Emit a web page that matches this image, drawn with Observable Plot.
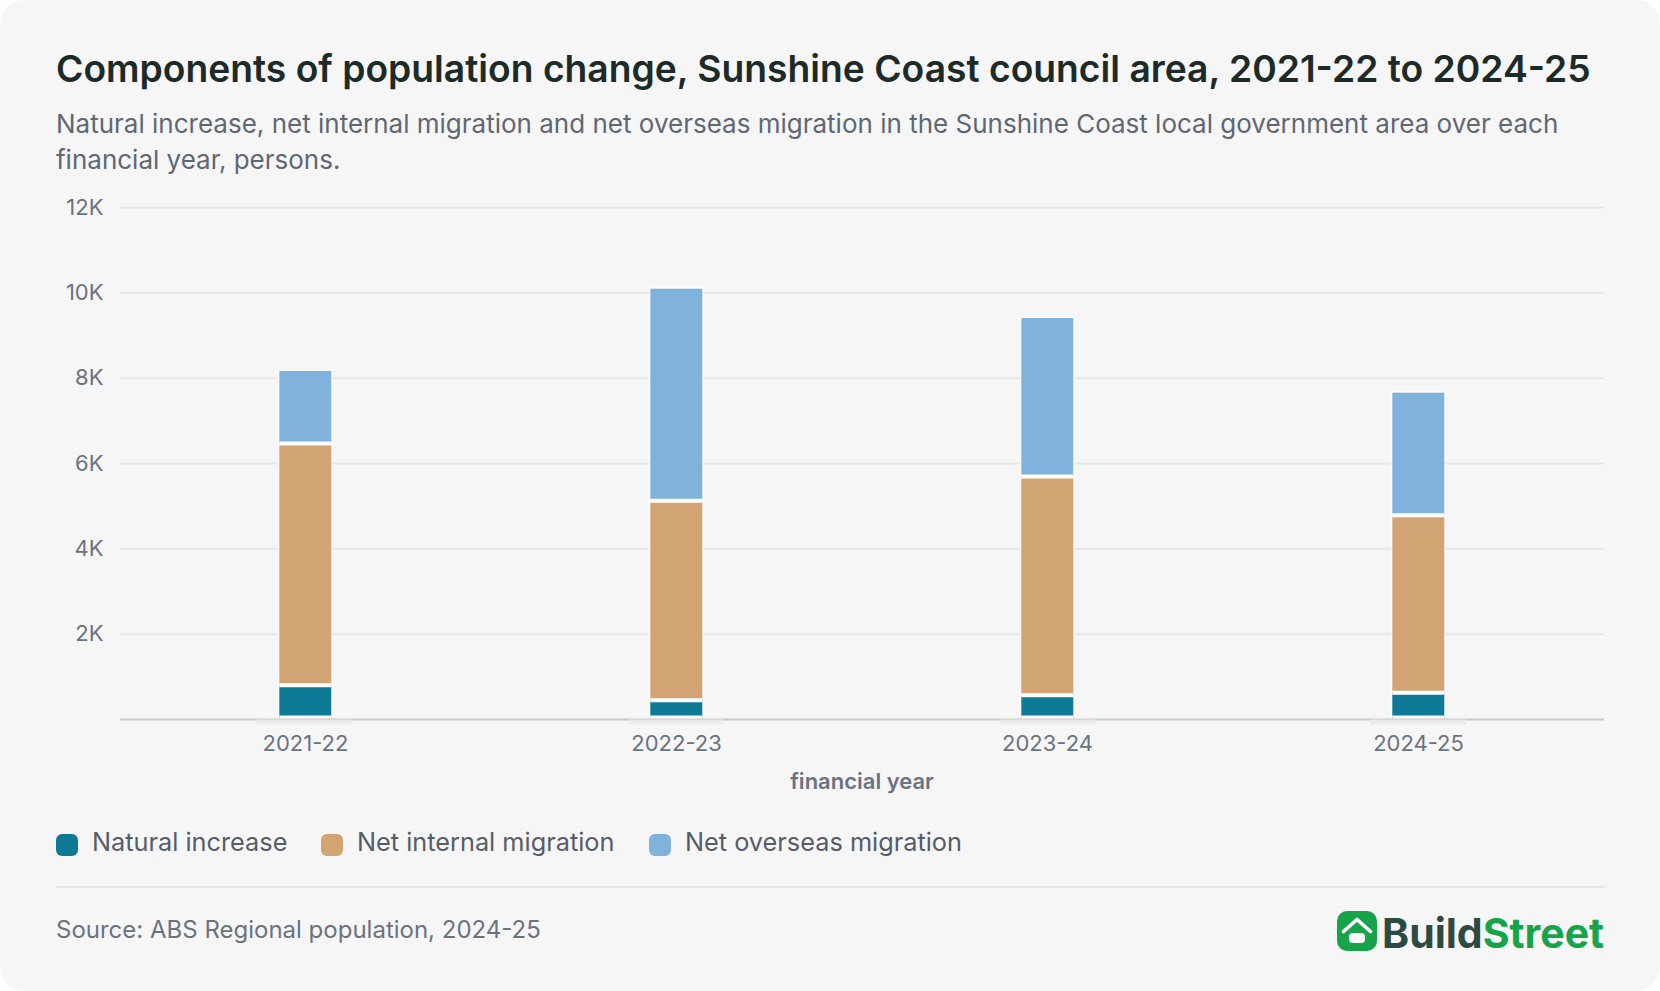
<!DOCTYPE html>
<html lang="en">
<head>
<meta charset="utf-8">
<script src="https://cdn.jsdelivr.net/npm/d3@7"></script>
<script src="https://cdn.jsdelivr.net/npm/@observablehq/plot@0.6"></script>
<style>
  html,body{margin:0;padding:0;background:#fff;}
  body{width:1660px;height:991px;overflow:hidden;font-family:Inter,sans-serif;}
  #card{position:relative;width:1660px;height:991px;background:#f6f6f6;border-radius:24px;overflow:hidden;}
  #title{position:absolute;left:56px;top:46px;font-size:37.23px;line-height:46px;font-weight:600;color:#1c2b28;white-space:nowrap;}
  #subtitle{position:absolute;left:56px;top:105.5px;width:1548px;font-size:26px;line-height:36px;color:#5f6773;}
  #chart{position:absolute;left:0;top:180px;}
  #legend{position:absolute;left:0;top:0;}
  .item{position:absolute;top:825px;height:40px;line-height:38px;font-size:25.3px;color:#555d69;white-space:nowrap;}
  .sw{position:absolute;left:0;top:9px;width:22px;height:22px;border-radius:6px;}
  .lab{position:absolute;left:36px;top:-2px;}
  #rule{position:absolute;left:56px;top:886px;width:1548px;height:2px;background:#e4e4e4;}
  #source{position:absolute;left:56px;top:913px;font-size:24px;line-height:34px;color:#6b7280;white-space:nowrap;}
  #logo{position:absolute;left:1337px;top:911px;width:267px;height:42px;}
  #logo svg{position:absolute;left:0;top:0;}
  #logotext{position:absolute;left:45px;top:-4px;font-size:41px;line-height:52px;font-weight:700;color:#2d4a42;white-space:nowrap;}
  #logotext span{color:#16a34a;}
</style>
</head>
<body>
<div id="card">
  <div id="title"></div>
  <div id="subtitle"></div>
  <div id="chart"></div>
  <div id="legend"></div>
  <div id="rule"></div>
  <div id="source"></div>
  <div id="logo">
    <svg width="40" height="40" viewBox="0 0 40 40">
      <rect width="40" height="40" rx="10" fill="#16a34a"/>
      <path d="M6.5 20.5 L20 8.5 L33.5 20.5" fill="none" stroke="#fff" stroke-width="3.6" stroke-linecap="round" stroke-linejoin="round"/>
      <rect x="12" y="22" width="16" height="10" rx="4" fill="#fff"/>
    </svg>
    <div id="logotext">Build<span>Street</span></div>
  </div>
</div>
<script>
const titleText = "Components of population change, Sunshine Coast council area, 2021-22 to 2024-25";
const subtitleText = "Natural increase, net internal migration and net overseas migration in the Sunshine Coast local government area over each financial year, persons.";
const sourceText = "Source: ABS Regional population, 2024-25";
const xLabel = "financial year";

const years = ["2021-22", "2022-23", "2023-24", "2024-25"];
const seriesNames = ["Natural increase", "Net internal migration", "Net overseas migration"];
const seriesColors = ["#0f7a96", "#d2a373", "#7fb3dc"];
const naturalIncrease = [804, 452, 570, 626];
const netInternal = [5665, 4674, 5125, 4160];
const netOverseas = [1687, 4959, 3703, 2862];
const yTicks = [2000, 4000, 6000, 8000, 10000, 12000];
const legendLefts = [56, 321, 649];

document.getElementById("title").textContent = titleText;
document.getElementById("subtitle").textContent = subtitleText;
document.getElementById("source").textContent = sourceText;

const seriesValues = [naturalIncrease, netInternal, netOverseas];
const rows = seriesNames.flatMap((name, s) =>
  years.map((year, i) => ({year, name, value: seriesValues[s][i]}))
);
const stackOpts = {x: "year", y: "value", z: "name", order: seriesNames, dx: -0.7};

const chart = Plot.plot({
  width: 1660,
  height: 630,
  marginLeft: 120,
  marginRight: 56,
  marginTop: 27,
  marginBottom: 91,
  style: {fontFamily: "Inter, sans-serif", background: "transparent", overflow: "visible"},
  x: {domain: years, paddingInner: 0.86, paddingOuter: 0.43, label: null},
  y: {domain: [0, 12000], label: null},
  color: {domain: seriesNames, range: seriesColors},
  marks: [
    Plot.gridY(yTicks, {stroke: "#e6e6e3", strokeOpacity: 1, strokeWidth: 2}),
    Plot.barY(rows, Plot.stackY({...stackOpts, fill: "none", stroke: "#fff", strokeWidth: 3, strokeOpacity: 0.75})),
    Plot.barY(rows, Plot.stackY({...stackOpts, fill: "name"})),
    Plot.tickY(rows, Plot.stackY2({...stackOpts, stroke: d => d.name === seriesNames[2] ? "none" : "#fff", strokeWidth: 4})),
    Plot.tickY(years, {x: d => d, y: () => 0, dx: -0.7, dy: -2, stroke: "#fff", strokeWidth: 4}),
    Plot.ruleY([0], {stroke: "#c9c9c1", strokeWidth: 2}),
    Plot.tickY(years, {x: d => d, y: () => 0, dx: -1, dy: 2.5, insetLeft: -22, insetRight: -22, stroke: "#ebebe8", strokeWidth: 5, strokeOpacity: 0.9}),
    Plot.axisY({ticks: yTicks, tickFormat: d => d / 1000 + "K", tickSize: 0, tickPadding: 17, fontSize: 22, fontVariant: "normal", color: "#6b7280", label: null}),
    Plot.axisX({tickSize: 0, tickPadding: 16, dx: -1, fontSize: 22, color: "#6b7280", label: null}),
    Plot.text([xLabel], {text: d => d, frameAnchor: "bottom", dy: 69, dx: -0.5, fontSize: 22, fontWeight: 600, fill: "#6b7280"})
  ]
});
document.getElementById("chart").appendChild(chart);

const legend = document.getElementById("legend");
seriesNames.forEach((name, i) => {
  const item = document.createElement("div");
  item.className = "item";
  item.style.left = legendLefts[i] + "px";
  const sw = document.createElement("div");
  sw.className = "sw";
  sw.style.background = seriesColors[i];
  const lab = document.createElement("div");
  lab.className = "lab";
  lab.textContent = name;
  item.append(sw, lab);
  legend.appendChild(item);
});
</script>
</body>
</html>
